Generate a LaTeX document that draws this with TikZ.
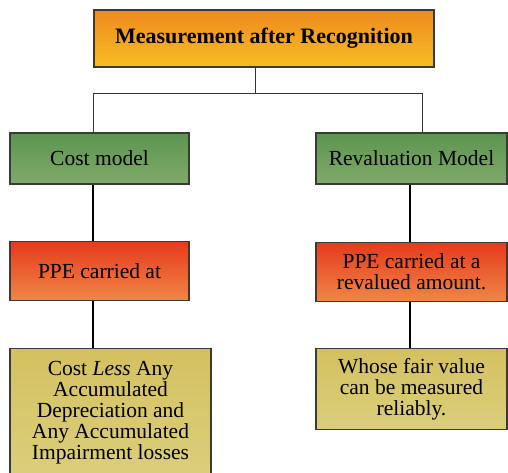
\documentclass[tikz,border=0pt]{standalone}
\usepackage{fontspec}
\setmainfont{Liberation Serif}
\usepackage{tikz}
\usetikzlibrary{positioning}
\definecolor{headtop}{HTML}{EE8A1E}
\definecolor{headbot}{HTML}{F8BE22}
\definecolor{greentop}{HTML}{5C9450}
\definecolor{greenmid}{HTML}{A0C68A}
\definecolor{greenbot}{HTML}{80AA6A}
\definecolor{redtop}{HTML}{E63A1C}
\definecolor{redbot}{HTML}{F08646}
\definecolor{yellowtop}{HTML}{D4C060}
\definecolor{yellowmid}{HTML}{E4DA98}
\definecolor{yellowbot}{HTML}{DBCF7C}
\definecolor{edgegray}{HTML}{3A3A3A}
\newcommand{\boxfont}{\rmfamily\fontsize{21.5}{21}\selectfont}
\tikzset{
  box/.style={draw=edgegray, line width=1.4pt, align=center, inner sep=3pt, font=\boxfont},
  headbox/.style={box, top color=headtop, bottom color=headbot, font=\rmfamily\fontsize{22}{22}\selectfont\bfseries},
  modelbox/.style={box, top color=greentop, middle color=greenmid, bottom color=greenbot, minimum height=51pt},
  carriedbox/.style={box, top color=redtop, bottom color=redbot, minimum height=59pt},
  detailbox/.style={box, top color=yellowtop, middle color=yellowmid, bottom color=yellowbot},
  link/.style={draw=black, line width=1.5pt},
  toplink/.style={draw=black!80, line width=0.9pt}
}
\begin{document}
\begin{tikzpicture}[x=1pt, y=1pt, node distance=56pt and 0pt]
  \useasboundingbox (0,0) rectangle (508,-472);

  \node[headbox, minimum width=340pt, minimum height=57pt] (head) at (264,-38.5) {Measurement after Recognition};

  \node[modelbox, minimum width=179pt] (cost) at (99.5,-158.5) {Cost model};
  \node[modelbox, minimum width=191pt] (reval) at (411.5,-158.5) {Revaluation Model};

  \node[carriedbox, minimum width=179pt, below=of cost] (costppe) {PPE carried at};
  \node[carriedbox, minimum width=191pt, below=57pt of reval] (revalppe) {PPE carried at a\\revalued amount.};

  \node[detailbox, minimum width=201pt, minimum height=128pt, anchor=north] (costdetail) at (110.5,-348) {Cost \textit{Less} Any\\Accumulated\\Depreciation and\\Any Accumulated\\Impairment losses};
  \node[detailbox, minimum width=191pt, minimum height=81pt, anchor=north] (revaldetail) at (411.5,-348) {Whose fair value\\can be measured\\reliably.};

  \coordinate (split) at (255,-93);
  \coordinate (jl) at (93,-93);
  \coordinate (jr) at (422,-93);

  \draw[toplink] (head.south -| split) -- (split);
  \draw[toplink] (jl |- cost.north) -- (jl) -- (jr) -- (jr |- reval.north);

  \draw[link] (cost.south -| jl) -- (costppe.north -| jl);
  \draw[link] (costppe.south -| jl) -- (costdetail.north -| jl);
  \draw[link] ([xshift=-1.5pt]reval.south) -- ([xshift=-1.5pt]revalppe.north);
  \draw[link] ([xshift=-1.5pt]revalppe.south) -- ([xshift=-1.5pt]revaldetail.north);
\end{tikzpicture}
\end{document}
